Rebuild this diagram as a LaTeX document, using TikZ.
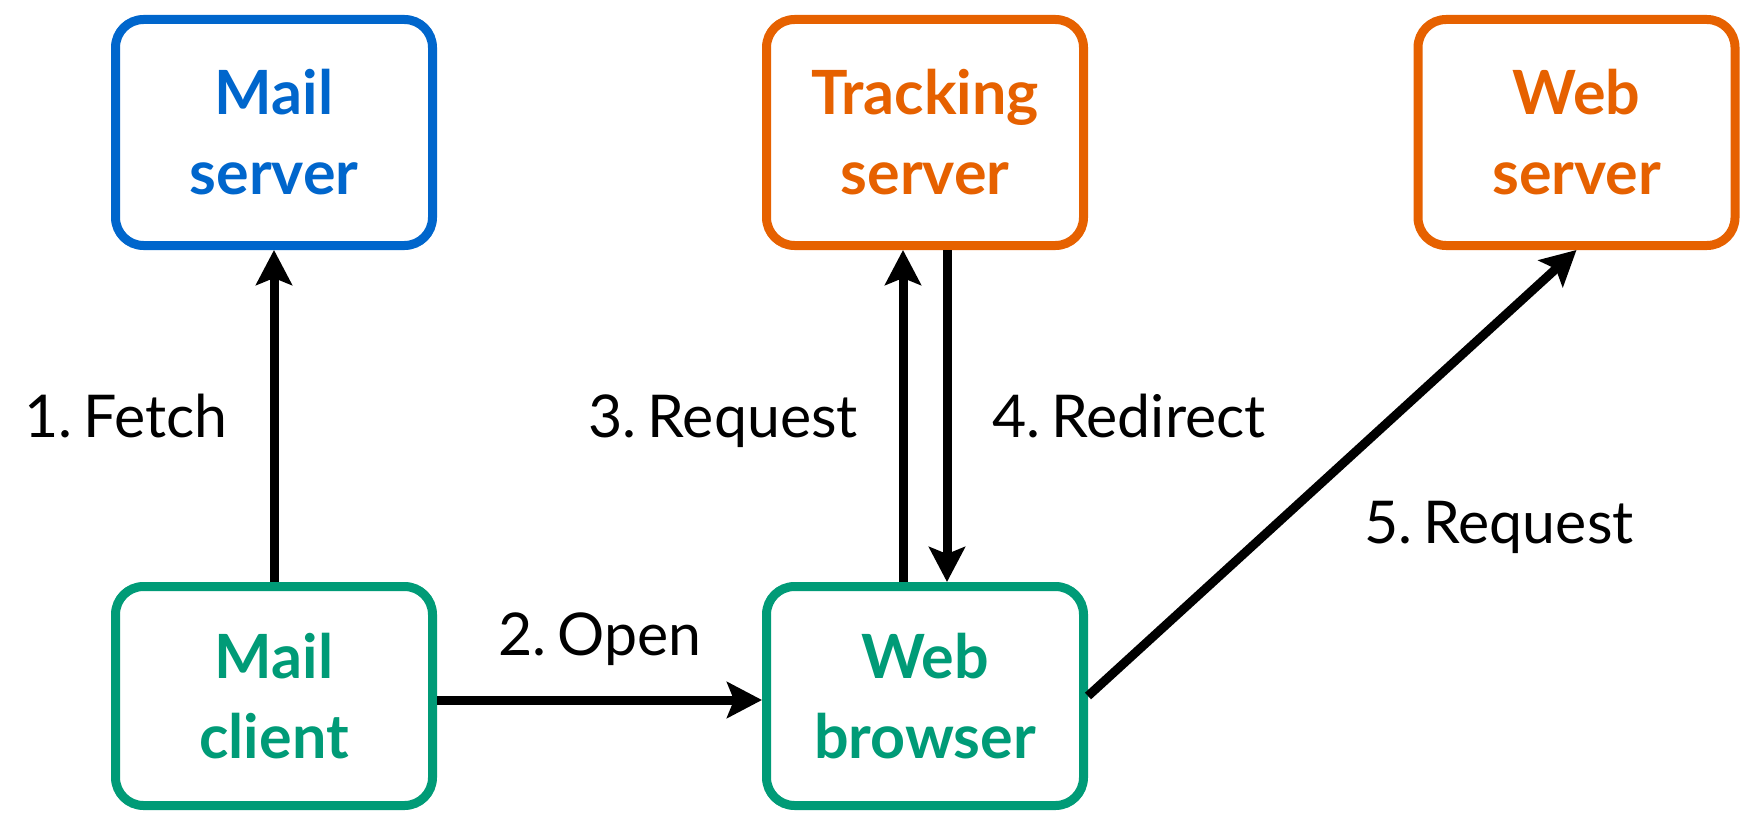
\documentclass[tikz,border=0pt]{standalone}
\usepackage{fontspec}
\setmainfont{Lato}
\newfontfamily\lblfont[WordSpace=0.75]{Lato}
\usetikzlibrary{arrows.meta}
\definecolor{srvblue}{HTML}{0066CC}
\definecolor{srvorange}{HTML}{E66100}
\definecolor{cligreen}{HTML}{009B77}
\tikzset{
  box/.style={draw=#1, text=#1, line width=9pt, rounded corners=28pt, fill=white,
    minimum width=317pt, inner sep=0pt, align=center,
    font=\fontsize{61pt}{80pt}\selectfont\bfseries},
  topbox/.style={box=#1, minimum height=226pt},
  botbox/.style={box=#1, minimum height=219pt},
  flow/.style={line width=9pt, -{Stealth[length=35pt, width=36pt, inset=7pt]}},
  lbl/.style={inner sep=0pt, font=\lblfont\fontsize{59pt}{70pt}\selectfont\frenchspacing}
}
\begin{document}
\begin{tikzpicture}[x=1pt, y=-1pt]
  \useasboundingbox (0,0) rectangle (1748,813);
  % servers
  \node[topbox=srvblue]   (ms) at (274,132.5)    {Mail\\server};
  \node[topbox=srvorange] (ts) at (925,132.5)    {Tracking\\server};
  \node[topbox=srvorange] (ws) at (1576.5,132.5) {Web\\server};
  % clients
  \node[botbox=cligreen]  (mc) at (274,696) {Mail\\client};
  \node[botbox=cligreen]  (wb) at (925,696) {Web\\browser};
  % message flow
  \draw[flow] (mc.north) -- (ms.south);
  \draw[flow] ([yshift=-4pt]mc.east) -- ([yshift=-4pt]wb.west);
  \draw[flow] ([xshift=-22pt]wb.north) -- ([xshift=-22pt]ts.south);
  \draw[flow] ([xshift=22pt]ts.south) -- ([xshift=22pt]wb.north);
  \draw[flow] (wb.east) -- (ws.south);
  % step labels
  \node[lbl, anchor=base east] (l1) at (228,437)  {1. Fetch};
  \node[lbl, anchor=base]      (l2) at (600,655)  {2. Open};
  \node[lbl, anchor=base east] (l3) at (858,437)  {3. Request};
  \node[lbl, anchor=base west] (l4) at (992,437)  {4. Redirect};
  \node[lbl, anchor=base west] (l5) at (1364,543) {5. Request};
\end{tikzpicture}
\end{document}
